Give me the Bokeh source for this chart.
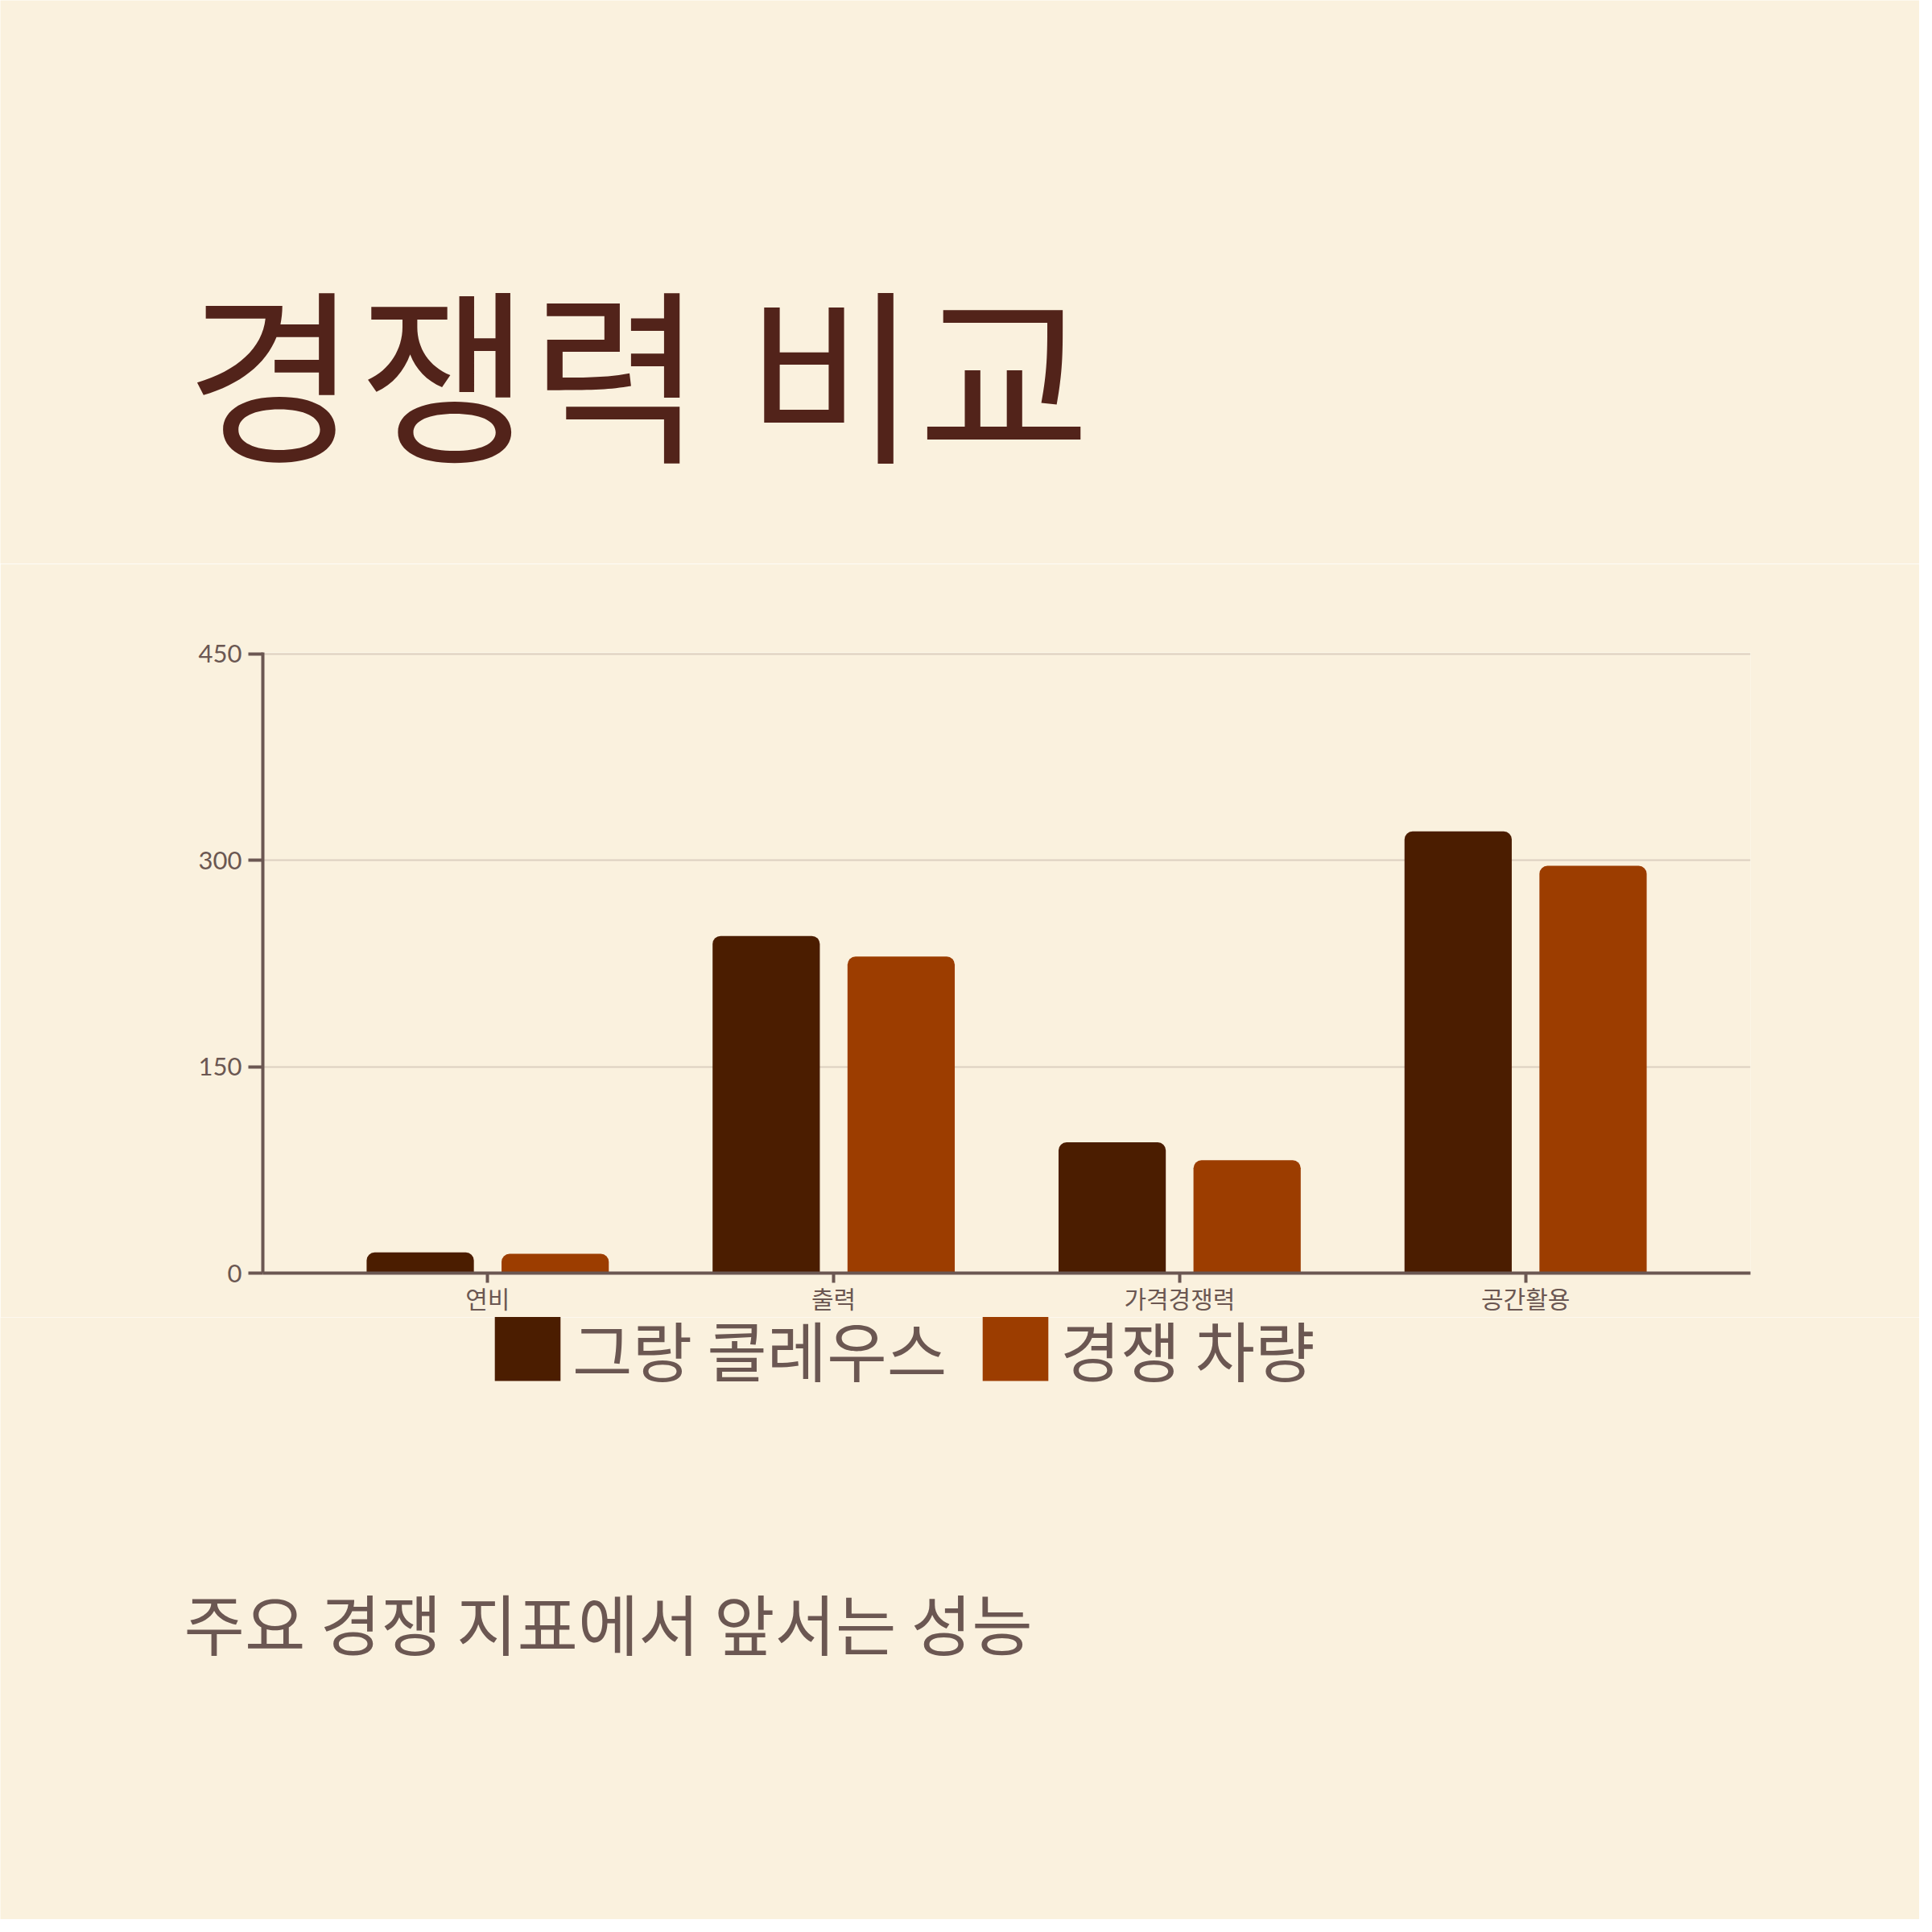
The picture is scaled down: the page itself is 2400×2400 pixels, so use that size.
from bokeh.plotting import figure
from bokeh.layouts import column
from bokeh.models import (FactorRange, Range1d, Label, Legend, LegendItem,
                          FixedTicker, ColumnDataSource)
from bokeh.transform import dodge
from bokeh.embed import file_html
from bokeh.resources import INLINE

# ---- data ----
categories = ["연비", "출력", "가격경쟁력", "공간활용"]
series_names = ["그랑 콜레우스", "경쟁 차량"]
grand_coleos = [15, 245, 95, 321]
competitor = [14, 230, 82, 296]
y_ticks = [0, 150, 300, 450]
title_text = "경쟁력 비교"
subtitle_text = "주요 경쟁 지표에서 앞서는 성능"

# ---- style ----
BG = "#FAF1DE"
C1 = "#4B1D00"
C2 = "#9C3D00"
TITLE_C = "#52231A"
TEXT_C = "#6B5752"
GRID_C = "#DCD0C0"
KR = "Noto Sans CJK KR"

W = 2384
H_TOP = 700
H_MAIN = 1636 - H_TOP
H_BOT = 2384 - 1636
FL, FR, FT, FB = 326, 2174, 810, 1582   # page coordinates of the frame


def strip(h):
    f = figure(width=W, height=h, output_backend="svg", toolbar_location=None,
               x_range=Range1d(0, W), y_range=Range1d(0, h),
               x_axis_location=None, y_axis_location=None,
               min_border=0, background_fill_color=BG, border_fill_color=BG,
               outline_line_color=None)
    f.grid.visible = False
    f.frame_align = False
    return f


# ---- top strip: title ----
t = strip(H_TOP)
t.add_layout(Label(x=230, y=245, text=title_text,
                   text_font=KR, text_font_size="233px", text_color=TITLE_C,
                   text_baseline="alphabetic"))

# ---- main chart ----
src = ColumnDataSource(dict(cat=categories, a=grand_coleos, b=competitor))

p = figure(width=W, height=H_MAIN, output_backend="svg", toolbar_location=None,
           x_range=FactorRange(factors=categories, range_padding=0.15,
                               range_padding_units="absolute"),
           y_range=Range1d(0, 451),
           min_border_left=FL, min_border_right=W - FR,
           min_border_top=FT - H_TOP, min_border_bottom=1636 - FB,
           background_fill_color=BG, border_fill_color=BG,
           outline_line_color=None)
p.frame_align = False

r1 = p.vbar(x=dodge("cat", -0.195, range=p.x_range), top="a", width=0.31,
            source=src, fill_color=C1, line_color=None,
            border_radius=[10, 10, 0, 0])
r2 = p.vbar(x=dodge("cat", 0.195, range=p.x_range), top="b", width=0.31,
            source=src, fill_color=C2, line_color=None,
            border_radius=[10, 10, 0, 0])

p.yaxis.ticker = FixedTicker(ticks=y_ticks)
for ax in (p.xaxis, p.yaxis):
    ax.axis_line_color = TEXT_C
    ax.axis_line_width = 4
    ax.major_tick_line_color = TEXT_C
    ax.major_tick_line_width = 4
    ax.minor_tick_line_color = None
    ax.major_tick_in = 0
    ax.major_label_text_color = TEXT_C
p.yaxis.major_tick_out = 18
p.yaxis.major_label_text_font = "Lato"
p.yaxis.major_label_text_font_size = "31px"
p.yaxis.major_label_standoff = 8
p.xaxis.major_tick_out = 12
p.xaxis.major_label_text_font = KR
p.xaxis.major_label_text_font_size = "30px"
p.xaxis.major_label_standoff = -4

p.xgrid.grid_line_color = None
p.ygrid.grid_line_color = GRID_C
p.ygrid.grid_line_width = 2
p.ygrid.ticker = FixedTicker(ticks=y_ticks)

# ---- bottom strip: legend + subtitle ----
b = strip(H_BOT)
# hidden proxies that carry the series colours into the legend
k1 = b.vbar(x="a", top="a", width=1, source=src, fill_color=C1,
            line_color=None, visible=False)
k2 = b.vbar(x="b", top="b", width=1, source=src, fill_color=C2,
            line_color=None, visible=False)

legend = Legend(items=[LegendItem(label=series_names[0], renderers=[k1]),
                       LegendItem(label=series_names[1], renderers=[k2])],
                orientation="horizontal", location=(604, 651),
                glyph_width=102, glyph_height=100, label_standoff=5,
                spacing=34, padding=0, margin=0,
                label_text_font=KR, label_text_font_size="81px",
                label_text_color=TEXT_C, inactive_fill_alpha=0,
                border_line_color=None, background_fill_alpha=0)
b.add_layout(legend, "center")

b.add_layout(Label(x=228, y=370, text=subtitle_text,
                   text_font=KR, text_font_size="82px", text_color=TEXT_C,
                   text_baseline="alphabetic"))

layout = column(t, p, b, spacing=0)
html = file_html(layout, INLINE)
html = html.replace("<body>", '<body style="background:%s">' % BG, 1)
open("out.html", "w").write(html)
